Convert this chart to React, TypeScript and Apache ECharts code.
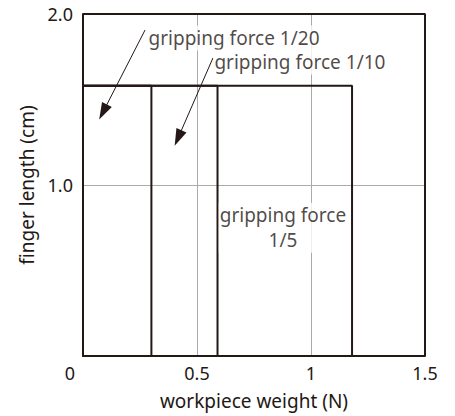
import React, { useEffect, useRef } from "react";
import * as echarts from "echarts";

const xTicks = [0, 0.5, 1, 1.5];
const yTicks = [1.0, 2.0];
const rectRights = [0.3, 0.59, 1.18];
const rectHeight = 1.58;
const rectNames = ["gripping force 1/20", "gripping force 1/10", "gripping force 1/5"];
const labelAnchors: [number, number][] = [[0.283, 1.86], [0.572, 1.72], [0.877, 0.75]];
const labelTexts = ["gripping force 1/20", "gripping force 1/10", "gripping force\n1/5"];
const arrows: [[number, number], [number, number]][] = [
  [[0.272, 1.906], [0.088, 1.427]],
  [[0.570, 1.743], [0.417, 1.275]],
];

const INK = "#231815";
const FONT = "'Noto Sans', 'Liberation Sans', sans-serif";

export default function App() {
  const ref = useRef<HTMLDivElement>(null);
  useEffect(() => {
    if (!ref.current) return;
    const chart = echarts.init(ref.current, null, { renderer: "svg" });
    const rectSeries = rectRights.map((r, i) => ({
      type: "line",
      name: rectNames[i],
      data: [[0, rectHeight], [r, rectHeight], [r, 0]],
      symbol: "none",
      lineStyle: { color: INK, width: 2 },
      z: 3,
    }));
    chart.setOption({
      animation: false,
      backgroundColor: "#fff",
      textStyle: { fontFamily: FONT },
      grid: { left: 83, right: 30, top: 14, bottom: 60 },
      xAxis: {
        type: "value",
        min: 0,
        max: 1.5,
        interval: 0.5,
        name: "workpiece weight (N)",
        nameLocation: "middle",
        nameGap: 35,
        nameTextStyle: { color: INK, fontSize: 19, fontFamily: FONT },
        axisLine: { show: true, lineStyle: { color: INK, width: 2 } },
        axisTick: { show: false },
        axisLabel: {
          color: INK,
          fontSize: 18,
          fontFamily: FONT,
          margin: 8,
          formatter: (v: number) =>
            v === 0 ? "{z|0}" : xTicks.includes(v) ? String(v) : "",
          rich: {
            z: { color: INK, fontSize: 18, fontFamily: FONT, padding: [0, 26, 0, 0] },
          },
        },
        splitLine: { show: true, lineStyle: { color: "#aaa", width: 1 } },
      },
      yAxis: {
        type: "value",
        min: 0,
        max: 2.0,
        interval: 1.0,
        name: "finger length (cm)",
        nameLocation: "middle",
        nameGap: 47,
        nameTextStyle: { color: INK, fontSize: 19, fontFamily: FONT },
        axisLine: { show: true, lineStyle: { color: INK, width: 2 } },
        axisTick: { show: false },
        axisLabel: {
          color: INK,
          fontSize: 18,
          fontFamily: FONT,
          margin: 10,
          formatter: (v: number) => (yTicks.includes(v) ? v.toFixed(1) : ""),
        },
        splitLine: { show: true, lineStyle: { color: "#aaa", width: 1 } },
      },
      series: [
        ...rectSeries,
        {
          type: "line",
          name: "frame",
          data: [[0, 2.0], [1.5, 2.0], [1.5, 0]],
          symbol: "none",
          lineStyle: { color: INK, width: 2 },
          z: 3,
          markLine: {
            silent: true,
            symbol: ["none", "triangle"],
            symbolSize: [11, 17],
            lineStyle: { color: INK, width: 1, type: "solid" },
            label: { show: false },
            data: arrows.map(([a, b]) => [{ coord: a }, { coord: b }]),
          },
        },
        {
          type: "scatter",
          name: "labels",
          symbolSize: 0,
          z: 5,
          data: labelAnchors.map((p, i) => ({
            value: p,
            label: {
              show: true,
              formatter: labelTexts[i],
              position: i === 2 ? "inside" : "right",
              distance: 0,
              align: i === 2 ? "center" : "left",
              verticalAlign: "middle",
              color: INK,
              fontSize: 19,
              fontFamily: FONT,
              lineHeight: 25,
              backgroundColor: "#fff",
              padding: [0, 1],
            },
          })),
        },
      ],
    });
    return () => chart.dispose();
  }, []);
  return <div ref={ref} style={{ width: 455, height: 416, position: "absolute", left: 0, top: 0 }} />;
}
